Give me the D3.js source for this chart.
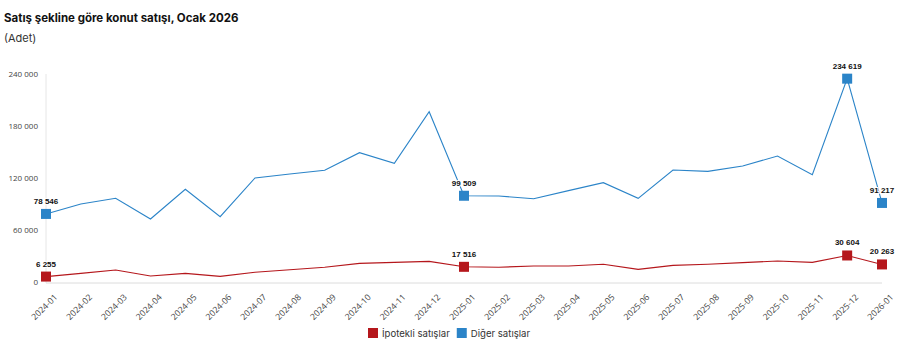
<!DOCTYPE html>
<html>
<head>
<meta charset="utf-8">
<script src="https://cdn.jsdelivr.net/npm/d3@7"></script>
<style>
body { margin: 0; background: #fff; }
svg text { font-family: Inter, "Noto Sans", sans-serif; }
</style>
</head>
<body>
<svg width="904" height="358"></svg>
<script>
var months = ["2024-01","2024-02","2024-03","2024-04","2024-05","2024-06","2024-07","2024-08","2024-09","2024-10","2024-11","2024-12",
  "2025-01","2025-02","2025-03","2025-04","2025-05","2025-06","2025-07","2025-08","2025-09","2025-10","2025-11","2025-12","2026-01"];
var ipotekli = [6255, 10000, 13800, 6900, 10000, 6500, 11200, 14200, 17000, 21500, 22700, 23800,
  17516, 17000, 18500, 18500, 20400, 14600, 19200, 20400, 22300, 24200, 22700, 30604, 20263];
var diger = [78546, 90000, 96600, 72700, 107000, 75400, 120000, 124600, 129000, 149200, 137000, 196500,
  99509, 99200, 96100, 105400, 114600, 96500, 129200, 127700, 133800, 145400, 123800, 234619, 91217];
var yTicks = [0, 60000, 120000, 180000, 240000];
var markedMonths = ["2024-01", "2025-01", "2025-12", "2026-01"];
var seriesNames = ["İpotekli satışlar", "Diğer satışlar"];
var colors = ["#b5171c", "#2b84c8"];

var svg = d3.select("svg"),
  margin = {top: 74, right: 22, bottom: 76, left: 46},
  width = +svg.attr("width") - margin.left - margin.right,
  height = +svg.attr("height") - margin.top - margin.bottom,
  g = svg.append("g").attr("transform", "translate(" + margin.left + "," + margin.top + ")");

var fmt = function(v) { return d3.format(",")(v).replace(/,/g, " "); };

svg.append("text").attr("x", 4).attr("y", 22)
  .style("font-size", "11.5px").style("font-weight", "700").attr("fill", "#111")
  .text("Satış şekline göre konut satışı, Ocak 2026");
svg.append("text").attr("x", 4).attr("y", 42)
  .style("font-size", "11px").attr("fill", "#333")
  .text("(Adet)");

var x = d3.scalePoint().domain(months).range([0, width]);
var y = d3.scaleLinear().domain([0, 240000]).range([height, 0]);

// axes
g.append("line").attr("x1", 0).attr("x2", 0).attr("y1", 0).attr("y2", height + 1)
  .attr("stroke", "#e6e6e6");
g.append("line").attr("x1", 0).attr("x2", width).attr("y1", height + 1).attr("y2", height + 1)
  .attr("stroke", "#dcdcdc");

var yAxis = g.append("g").call(d3.axisLeft(y).tickValues(yTicks).tickSize(0).tickPadding(8).tickFormat(fmt));
yAxis.select(".domain").remove();
yAxis.selectAll("text").style("font-family", "'Open Sans', sans-serif").style("font-size", "8px").attr("fill", "#444");

var xAxis = g.append("g").attr("transform", "translate(0," + (height + 1) + ")")
  .call(d3.axisBottom(x).tickSize(0));
xAxis.select(".domain").remove();
xAxis.selectAll("text")
  .style("font-family", "'Open Sans', sans-serif").style("font-size", "8.6px").attr("fill", "#444")
  .attr("text-anchor", "end")
  .attr("dx", "0.3em").attr("dy", "0.9em")
  .attr("transform", "translate(2,9) rotate(-45)");

var series = [ipotekli, diger];
var line = d3.line()
  .x(function(d, i) { return x(months[i]); })
  .y(function(d) { return y(d); });

series.forEach(function(vals, s) {
  g.append("path").datum(vals)
    .attr("fill", "none").attr("stroke", colors[s]).attr("stroke-width", 1.1)
    .attr("d", line);

  var pts = vals.map(function(v, i) { return {m: months[i], v: v}; })
    .filter(function(d) { return markedMonths.indexOf(d.m) >= 0; });

  g.selectAll(null).data(pts).enter().append("rect")
    .attr("x", function(d) { return x(d.m) - 5; })
    .attr("y", function(d) { return y(d.v) - 5; })
    .attr("width", 10).attr("height", 10)
    .attr("fill", colors[s]);

  g.selectAll(null).data(pts).enter().append("text")
    .attr("x", function(d) { return x(d.m); })
    .attr("y", function(d) { return y(d.v) - 10; })
    .attr("text-anchor", "middle")
    .style("font-family", "'Liberation Sans', Arial, sans-serif")
    .style("font-size", "8px").style("font-weight", "700")
    .attr("fill", "#111").attr("stroke", "#fff").attr("stroke-width", 2).attr("paint-order", "stroke")
    .text(function(d) { return fmt(d.v); });
});

// legend
var legend = svg.append("g").attr("transform", "translate(368,328)");
var lx = 0;
seriesNames.forEach(function(name, s) {
  var item = legend.append("g").attr("transform", "translate(" + lx + ",0)");
  item.append("rect").attr("width", 10).attr("height", 10).attr("fill", colors[s]);
  var t = item.append("text").attr("x", 14).attr("y", 9)
    .style("font-size", "9.6px").attr("fill", "#333").text(name);
  lx += 14 + t.node().getComputedTextLength() + 7;
});
</script>
</body>
</html>
